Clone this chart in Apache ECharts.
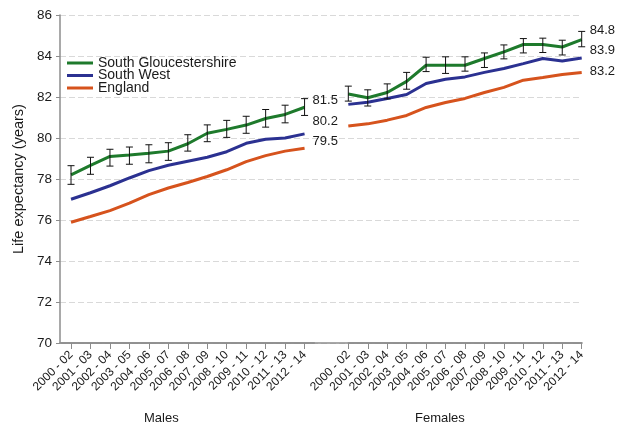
<!DOCTYPE html>
<html>
<head>
<meta charset="utf-8">
<script src="https://cdn.jsdelivr.net/npm/echarts@6/dist/echarts.min.js"></script>
<style>
  html, body { margin: 0; padding: 0; background: #fff; }
  #chart { width: 630px; height: 427px; }
</style>
</head>
<body>
<div id="chart"></div>
<script>
// Three-year pooled periods, shared by the male and female panels
const periods = ['2000 - 02', '2001 - 03', '2002 - 04', '2003 - 05', '2004 - 06', '2005 - 07',
  '2006 - 08', '2007 - 09', '2008 - 10', '2009 - 11', '2010 - 12', '2011 - 13', '2012 - 14'];

const areaNames = ['South Gloucestershire', 'South West', 'England'];
const groupTitles = ['Males', 'Females'];

// Life expectancy at birth (years) - males
const maleSG     = [78.20, 78.66, 79.10, 79.17, 79.26, 79.36, 79.72, 80.23, 80.42, 80.63, 80.95, 81.15, 81.5];
const maleSGLow  = [77.74, 78.23, 78.63, 78.72, 78.79, 78.91, 79.36, 79.82, 80.03, 80.23, 80.53, 80.74, 81.10];
const maleSGHigh = [78.65, 79.06, 79.45, 79.56, 79.67, 79.77, 80.16, 80.64, 80.86, 81.06, 81.39, 81.60, 81.92];
const maleSW     = [77.01, 77.33, 77.67, 78.05, 78.41, 78.67, 78.87, 79.06, 79.33, 79.74, 79.94, 80.00, 80.2];
const maleEng    = [75.89, 76.17, 76.46, 76.82, 77.24, 77.56, 77.83, 78.12, 78.45, 78.85, 79.14, 79.36, 79.5];

// Life expectancy at birth (years) - females
const femaleSG     = [82.15, 81.96, 82.22, 82.76, 83.55, 83.55, 83.55, 83.88, 84.20, 84.56, 84.56, 84.44, 84.8];
const femaleSGLow  = [81.80, 81.56, 81.91, 82.38, 83.24, 83.15, 83.26, 83.44, 83.86, 84.15, 84.17, 84.05, 84.45];
const femaleSGHigh = [82.53, 82.35, 82.64, 83.20, 83.94, 83.96, 83.96, 84.15, 84.54, 84.85, 84.87, 84.77, 85.20];
const femaleSW     = [81.64, 81.74, 81.93, 82.12, 82.66, 82.87, 82.98, 83.20, 83.39, 83.63, 83.88, 83.76, 83.9];
const femaleEng    = [80.58, 80.69, 80.87, 81.10, 81.49, 81.73, 81.93, 82.22, 82.47, 82.82, 82.95, 83.10, 83.2];

const yMin = 70, yMax = 86, yStep = 2;

const colors = { sg: '#1e7a2c', sw: '#2b3191', eng: '#d6531d' };
const textColor = '#1a1a1a';
const axisColor = '#8c8c8c';
const font = 'Liberation Sans, Arial, sans-serif';

function lineSeries(name, data, axis, color, labelDy, z) {
  return {
    type: 'line', name, data,
    xAxisIndex: axis, yAxisIndex: axis,
    symbol: 'none', z,
    lineStyle: { width: 3, color },
    itemStyle: { color },
    endLabel: {
      show: true, distance: 8, offset: [0, labelDy],
      formatter: p => Number(p.value).toFixed(1),
      fontSize: 13, color: textColor, fontFamily: font
    },
    emphasis: { disabled: true }
  };
}

function errorBars(low, high, axis) {
  return {
    type: 'custom',
    xAxisIndex: axis, yAxisIndex: axis, z: 10,
    data: periods.map((p, i) => [i, low[i], high[i]]),
    encode: { x: 0, y: [1, 2] },
    renderItem: (params, api) => {
      const bottom = api.coord([api.value(0), api.value(1)]);
      const top = api.coord([api.value(0), api.value(2)]);
      const cap = 3.5;
      const style = { stroke: '#111', lineWidth: 1 };
      return {
        type: 'group',
        children: [
          { type: 'line', shape: { x1: top[0], y1: top[1], x2: bottom[0], y2: bottom[1] }, style },
          { type: 'line', shape: { x1: top[0] - cap, y1: top[1], x2: top[0] + cap, y2: top[1] }, style },
          { type: 'line', shape: { x1: bottom[0] - cap, y1: bottom[1], x2: bottom[0] + cap, y2: bottom[1] }, style }
        ]
      };
    }
  };
}

function categoryAxis(gridIndex, boundaryGap) {
  return {
    type: 'category', gridIndex, data: periods, boundaryGap,
    axisLine: { show: true, lineStyle: { color: axisColor, width: 1.5 } },
    axisTick: { show: true, alignWithLabel: true, length: 6, lineStyle: { color: axisColor, width: 1 } },
    axisLabel: { rotate: 45, interval: 0, fontSize: 12, margin: 10, color: textColor, fontFamily: font },
    splitLine: { show: false }
  };
}

const chart = echarts.init(document.getElementById('chart'), null, { renderer: 'canvas' });

chart.setOption({
  animation: false,
  textStyle: { fontFamily: font },
  grid: [
    { left: 60, right: 48, top: 15, bottom: 84 },
    { left: 61.3, top: 15, bottom: 84, width: 253 },
    { left: 348.3, right: 48.3, top: 15, bottom: 84 }
  ],
  legend: {
    orient: 'vertical', left: 67, top: 56, padding: 0,
    data: areaNames, icon: 'rect', itemWidth: 26, itemHeight: 3, itemGap: -1.5,
    textStyle: { fontSize: 14, lineHeight: 12.5, color: textColor, fontFamily: font }
  },
  xAxis: [
    {
      type: 'value', gridIndex: 0, min: 0, max: 1,
      axisLine: { show: true, lineStyle: { color: axisColor, width: 1.5 } },
      axisTick: { show: false }, axisLabel: { show: false }, splitLine: { show: false }
    },
    categoryAxis(1, true),
    categoryAxis(2, false)
  ],
  yAxis: [
    {
      type: 'value', gridIndex: 0, min: yMin, max: yMax, interval: yStep,
      name: 'Life expectancy (years)', nameLocation: 'middle', nameGap: 29,
      nameTextStyle: { fontSize: 14.5, color: textColor, fontFamily: font },
      axisLine: { show: true, lineStyle: { color: axisColor, width: 1.5 } },
      axisTick: { show: true, length: 4, lineStyle: { color: axisColor } },
      axisLabel: { fontSize: 13.5, color: textColor, margin: 8, fontFamily: font },
      splitLine: { show: true, lineStyle: { color: '#d9d9d9', type: [6, 3], width: 1 } }
    },
    { type: 'value', gridIndex: 1, min: yMin, max: yMax, show: false, splitLine: { show: false } },
    { type: 'value', gridIndex: 2, min: yMin, max: yMax, show: false, splitLine: { show: false } }
  ],
  graphic: [
    { type: 'text', left: 144, top: 412, style: { text: groupTitles[0], fontSize: 13, fill: textColor, fontFamily: font } },
    { type: 'text', left: 415, top: 412, style: { text: groupTitles[1], fontSize: 13, fill: textColor, fontFamily: font } }
  ],
  series: [
    lineSeries(areaNames[2], maleEng, 1, colors.eng, -6.5, 3),
    lineSeries(areaNames[1], maleSW, 1, colors.sw, -12, 4),
    lineSeries(areaNames[0], maleSG, 1, colors.sg, -6.5, 5),
    lineSeries(areaNames[2], femaleEng, 2, colors.eng, -1.2, 3),
    lineSeries(areaNames[1], femaleSW, 2, colors.sw, -7.5, 4),
    lineSeries(areaNames[0], femaleSG, 2, colors.sg, -8.7, 5),
    errorBars(maleSGLow, maleSGHigh, 1),
    errorBars(femaleSGLow, femaleSGHigh, 2)
  ]
});
</script>
</body>
</html>
